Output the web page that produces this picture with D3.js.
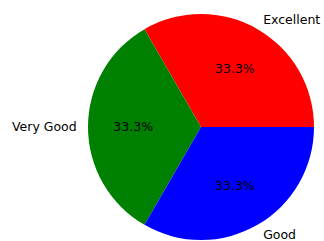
<!DOCTYPE html>
<html>
<head>
<meta charset="utf-8">
<script src="https://cdn.jsdelivr.net/npm/d3@7"></script>
<style>
  body { margin: 0; background: #fff; }
  text { font-family: "DejaVu Sans", sans-serif; font-size: 12.5px; }
</style>
</head>
<body>
<svg id="pie"></svg>
<script>
const categories = ["Excellent", "Very Good", "Good"];
const values = [1, 1, 1];
const colors = ["#ff0000", "#008000", "#0000ff"];

const width = 324;
const height = 241;
const cx = 201, cy = 127, radius = 113;

const svg = d3.select('#pie')
    .attr('width', width)
    .attr('height', height);

let slices = categories.map((c, i) => ({ label: c, value: values[i], color: colors[i] }));

// matplotlib style: start at 3 o'clock, go counterclockwise
let pie = d3.pie()
    .value(d => d.value)
    .sort(null)
    .startAngle(Math.PI / 2)
    .endAngle(Math.PI / 2 - 2 * Math.PI);

let arcs = pie(slices);
let total = d3.sum(values);

let arc = d3.arc().innerRadius(0).outerRadius(radius);

let g = svg.append('g').attr('transform', `translate(${cx},${cy})`);

g.selectAll('path')
    .data(arcs)
    .enter().append('path')
    .attr('d', arc)
    .attr('fill', d => d.data.color);

function pos(d, r) {
    let a = (d.startAngle + d.endAngle) / 2;
    return [r * Math.sin(a), -r * Math.cos(a)];
}

g.selectAll('text.label')
    .data(arcs)
    .enter().append('text')
    .attr('class', 'label')
    .attr('x', d => pos(d, radius * 1.1)[0])
    .attr('y', d => pos(d, radius * 1.1)[1])
    .attr('dy', '0.35em')
    .attr('text-anchor', d => pos(d, 1)[0] > 0.001 ? 'start' : 'end')
    .attr('fill', 'black')
    .text(d => d.data.label);

g.selectAll('text.pct')
    .data(arcs)
    .enter().append('text')
    .attr('class', 'pct')
    .attr('x', d => pos(d, radius * 0.6)[0])
    .attr('y', d => pos(d, radius * 0.6)[1])
    .attr('dy', '0.35em')
    .attr('text-anchor', 'middle')
    .attr('fill', 'black')
    .text(d => (d.data.value / total * 100).toFixed(1) + '%');
</script>
</body>
</html>
